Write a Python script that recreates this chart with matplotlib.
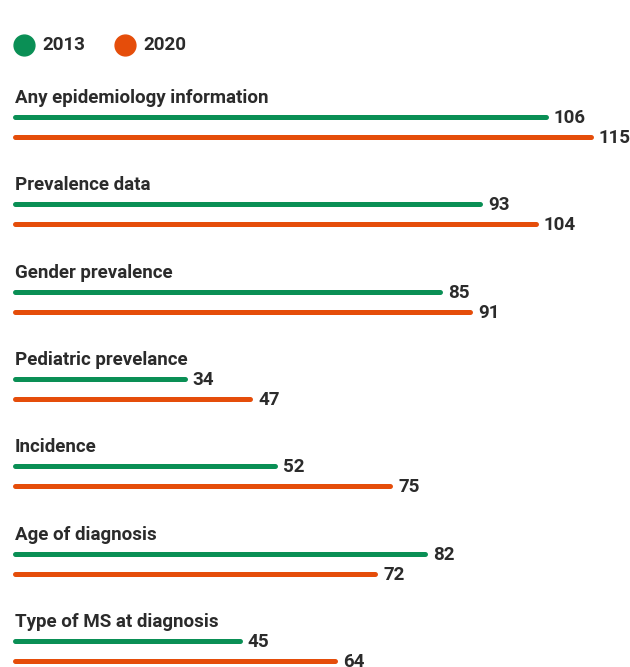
import matplotlib.pyplot as plt

categories = [
    "Any epidemiology information",
    "Prevalence data",
    "Gender prevalence",
    "Pediatric prevelance",
    "Incidence",
    "Age of diagnosis",
    "Type of MS at diagnosis",
]
values_2013 = [106, 93, 85, 34, 52, 82, 45]
values_2020 = [115, 104, 91, 47, 75, 72, 64]
series_names = ["2013", "2020"]

green = "#0a8f55"
orange = "#e54d0a"
text_color = "#2b2b2b"

plt.rcParams["font.family"] = ["Roboto", "DejaVu Sans"]

fig = plt.figure(figsize=(6.3, 6.67), dpi=100)
ax = fig.add_axes([0, 0, 1, 1])

# x in data units: 0 at ~14.5px, ~5.01 px per unit
px_per_unit = 5.01
x0_px = 14.5
ax.set_xlim(-x0_px / px_per_unit, (630 - x0_px) / px_per_unit)
# y in pixels from top
ax.set_ylim(667, 0)
ax.axis("off")

row_gap = 87.3
first_label = 98
fs = 13.5

for i, cat in enumerate(categories):
    y_label = first_label + i * row_gap
    ax.text(0, y_label, cat, fontsize=fs, fontweight="bold",
            color=text_color, va="center", ha="left")
    for v, dy, col in [(values_2013[i], 19, green), (values_2020[i], 39, orange)]:
        y = y_label + dy
        ax.plot([0, v], [y, y], color=col, linewidth=3.6, solid_capstyle="round")
        ax.text(v + 8 / px_per_unit, y + 1, str(v), fontsize=fs,
                fontweight="bold", color=text_color, va="center", ha="left")

# legend
for name, col, cx in [(series_names[0], green, 24), (series_names[1], orange, 125)]:
    ax.plot([(cx - x0_px) / px_per_unit], [45], marker="o", markersize=15,
            color=col, linestyle="none")
    ax.text((cx + 18 - x0_px) / px_per_unit, 45, name, fontsize=fs,
            fontweight="bold", color=text_color, va="center", ha="left")

fig.savefig("out.png", dpi=100)
